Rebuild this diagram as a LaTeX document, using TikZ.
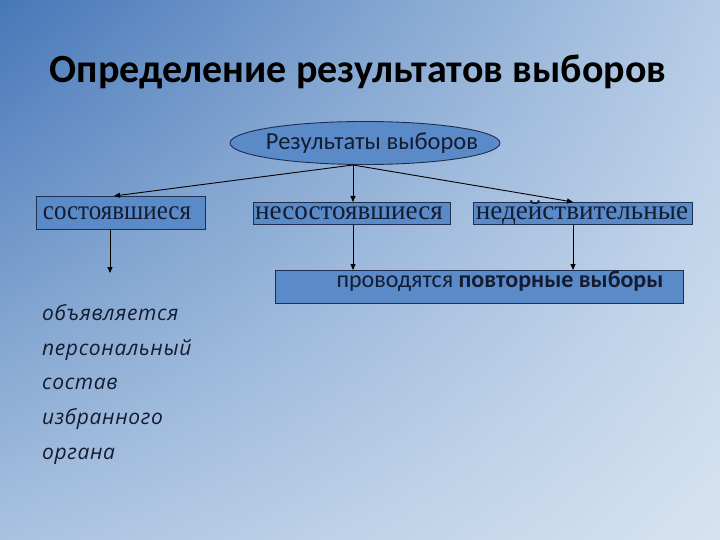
\documentclass[tikz,border=0pt]{standalone}
\usepackage{fontspec}
\setmainfont{Carlito}
\newfontfamily\serifru{Liberation Serif}
\newfontfamily\italru{Open Sans}
\usetikzlibrary{shapes.geometric,arrows.meta,shadings}
\definecolor{bgA}{HTML}{4677B8}
\definecolor{bgB}{HTML}{B6CCE6}
\definecolor{bgC}{HTML}{A9C2E0}
\definecolor{bgD}{HTML}{D6E3F1}
\definecolor{boxfill}{HTML}{5A8AC8}
\definecolor{boxline}{HTML}{1F2E4F}
\definecolor{txtc}{HTML}{141C30}
\tikzset{
  x=1pt,y=-1pt,
  box/.style={draw=boxline,line width=0.9pt,fill=boxfill,inner sep=0pt,anchor=north west},
  lbl/.style={inner sep=0pt,text=txtc},
  conn/.style={draw=black,line width=0.9pt,-{Triangle[length=6pt,width=5pt]}},
}
\begin{document}
\begin{tikzpicture}
\useasboundingbox (0,0) rectangle (720,540);
\shade[upper left=bgA,upper right=bgB,lower left=bgC,lower right=bgD] (0,0) rectangle (720,540);
\node[lbl,text=black] (title) at (358,72) {\fontsize{40}{46}\selectfont\bfseries Определение результатов выборов};
\node[ellipse,draw=boxline,line width=0.9pt,fill=boxfill,minimum width=270pt,minimum height=43pt,inner sep=0pt] (res) at (365,143) {};
\node[lbl] at (372,143) {\fontsize{24.5}{28}\selectfont Результаты выборов};
\node[box,minimum width=169pt,minimum height=33pt] (b1) at (36,196) {};
\node[lbl,anchor=base] at (117,219) {\serifru\fontsize{21}{24}\selectfont\scalebox{1.19}[1.3]{состоявшиеся}};
\node[box,minimum width=197pt,minimum height=22pt] (b2) at (253,202) {};
\node[lbl,anchor=base] at (349,220) {\serifru\fontsize{21}{24}\selectfont\scalebox{1.29}[1.3]{несостоявшиеся}};
\node[box,minimum width=219pt,minimum height=22pt] (b3) at (473,202) {};
\node[lbl,anchor=base] at (582,220) {\serifru\fontsize{21}{24}\selectfont\scalebox{1.29}[1.3]{недействительные}};
\node[box,minimum width=408pt,minimum height=33pt] (b4) at (275,270) {};
\node[lbl] at (500,281) {\fontsize{24}{28}\selectfont проводятся \bfseries повторные выборы};
\coordinate (rb) at (353,165);
\draw[conn] (rb) -- (b1.north -| 114,0);
\draw[conn] (rb) -- (b2.north -| 353,0);
\draw[conn] (rb) -- (b3.north -| 573,0);
\coordinate (t1) at (110,273);
\draw[conn] (b1.south -| 110,0) -- (t1);
\draw[conn] (b2.south -| 353,0) -- (b4.north -| 353,0);
\draw[conn] (b3.south -| 573,0) -- (b4.north -| 573,0);
\node[lbl,anchor=north west,align=left,font=\italru\itshape\fontsize{21}{34.8}\selectfont] (txt) at (42,304) {\addfontfeatures{LetterSpace=3}объявляется\\\addfontfeatures{LetterSpace=3}персональный\\\addfontfeatures{LetterSpace=3}состав\\\addfontfeatures{LetterSpace=3}избранного\\\addfontfeatures{LetterSpace=3}органа};
\end{tikzpicture}
\end{document}
